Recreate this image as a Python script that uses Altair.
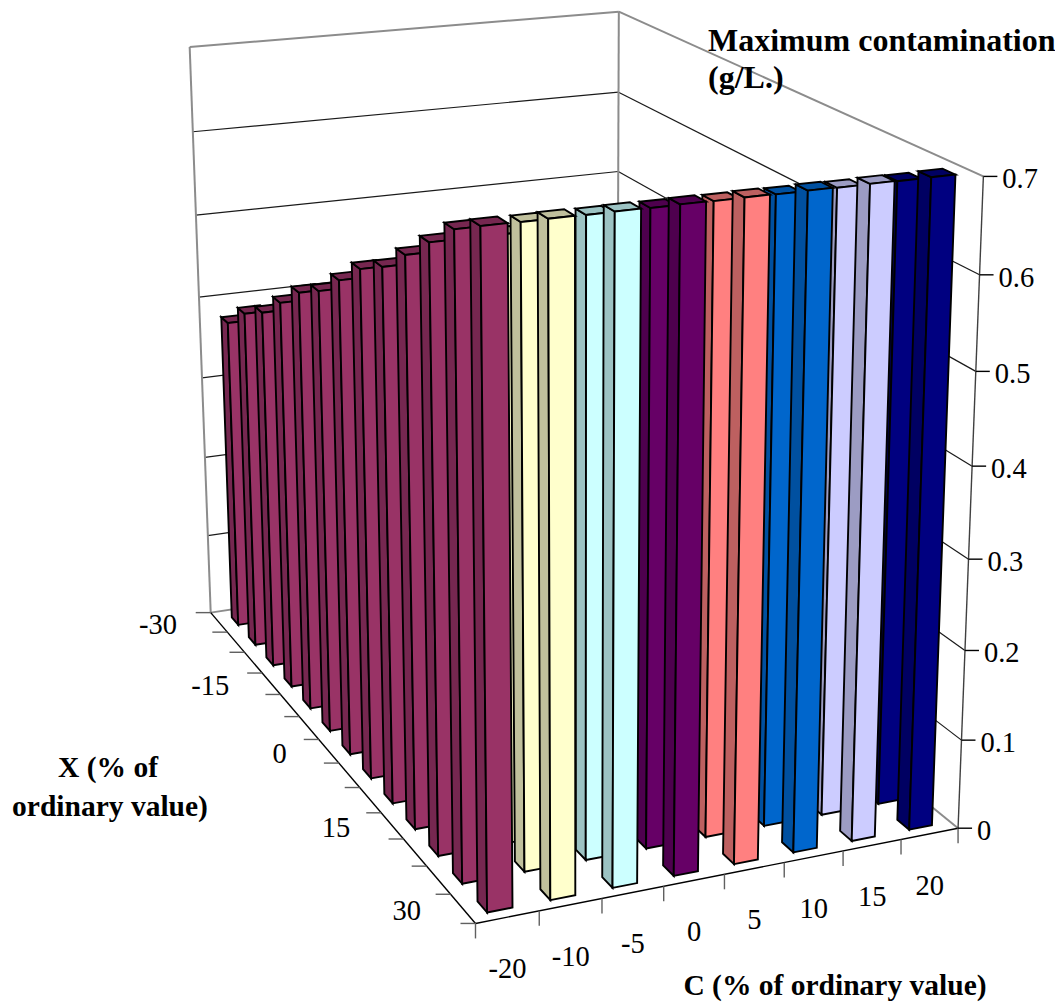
import numpy as np
import pandas as pd
import altair as alt

# ---- values ----------------------------------------------------------------
C_LABELS = ["-20", "-10", "-5", "0", "5", "10", "15", "20"]
X_TICK_ROWS = [0, 3, 6, 9, 12]
X_LABELS = ["-30", "-15", "0", "15", "30"]
Z_LABELS = ["0", "0.1", "0.2", "0.3", "0.4", "0.5", "0.6", "0.7"]
# maximum contamination (g/L) for X = -30 ... 30 in steps of 5; the same at every C
CONTAMINATION = [0.38, 0.41, 0.43, 0.46, 0.49, 0.51, 0.54, 0.57, 0.59, 0.62, 0.65, 0.68, 0.70]
FRONT_COLORS = ["#993366", "#FFFFCC", "#CCFFFF", "#660066", "#FF8080", "#0066CC", "#CCCCFF", "#000080"]
SIDE_COLORS = ["#762750", "#C0C09C", "#9CC3C3", "#4E004E", "#BD6060", "#0050A0", "#9C9CC3", "#000062"]
Z_MAX = 0.7

# ---- camera of the 3-D view: (C, X, value) -> page pixels ---------------------
CAMERA = np.array([
    [438.712863, 171.709807, -31.240611, 210.710719],
    [-32.860932, 130.069423, -568.125571, 612.61972],
    [0.052814, -0.195739, -0.053825, 1.0],
])
N_ROWS = len(CONTAMINATION)
N_COLS = len(C_LABELS)
BAR_U = (0.28, 0.68)   # bar extent inside a category cell
BAR_V = (0.25, 0.63)   # distance of the bar from the front of its cell


def proj(u, v, h):
    q = CAMERA @ np.array([u, v, h, 1.0])
    return float(q[0] / q[2]), float(q[1] / q[2])


# ---- bars, painted from the back and from the right ---------------------------
rows = []
pid = 0
for r in range(N_ROWS):
    h = CONTAMINATION[r] / Z_MAX
    vf = (r + 1 - BAR_V[0]) / N_ROWS
    vb = (r + 1 - BAR_V[1]) / N_ROWS
    for c in reversed(range(N_COLS)):
        ul = (c + BAR_U[0]) / N_COLS
        ur = (c + BAR_U[1]) / N_COLS
        faces = [
            (SIDE_COLORS[c], [(ul, vb, 0), (ul, vf, 0), (ul, vf, h), (ul, vb, h)]),
            (SIDE_COLORS[c], [(ul, vf, h), (ur, vf, h), (ur, vb, h), (ul, vb, h)]),
            (FRONT_COLORS[c], [(ul, vf, 0), (ur, vf, 0), (ur, vf, h), (ul, vf, h)]),
        ]
        for fill, pts in faces:
            pid += 1
            for i, p in enumerate(pts):
                x, y = proj(*p)
                rows.append({"px": x, "py": y, "poly": f"p{pid:05d}", "seq": i, "fill": fill})
bars_df = pd.DataFrame(rows)


# ---- walls, axes, ticks --------------------------------------------------------
def seg(lst, a, b, color, width, off=(0, 0)):
    x0, y0 = proj(*a)
    x1, y1 = proj(*b)
    lst.append({"x0": x0, "y0": y0, "x1": x1 + off[0], "y1": y1 + off[1], "c": color, "w": width})


GREY = "#8C8C8C"
wall = []
for k in range(1, 7):
    seg(wall, (0, 0, k / 7), (1, 0, k / 7), "#1A1A1A", 1.2)
    seg(wall, (1, 0, k / 7), (1, 1, k / 7), "#1A1A1A", 1.2)
seg(wall, (0, 0, 1), (1, 0, 1), GREY, 2)
seg(wall, (1, 0, 1), (1, 1, 1), GREY, 2)
seg(wall, (0, 0, 0), (0, 0, 1), GREY, 2)
seg(wall, (1, 0, 0), (1, 0, 1), GREY, 2)
seg(wall, (0, 0, 0), (1, 0, 0), GREY, 2)
seg(wall, (1, 0, 0), (1, 1, 0), GREY, 2)
wall_df = pd.DataFrame(wall)

axes = []
seg(axes, (0, 0, 0), (0, 1, 0), "#000000", 1.4)
seg(axes, (0, 1, 0), (1, 1, 0), "#000000", 1.4)
seg(axes, (1, 1, 0), (1, 1, 1), "#404040", 1.4)
for k in range(N_ROWS + 1):
    p = (0, k / N_ROWS, 0)
    seg(axes, p, p, "#606060", 1.4, (-15, 0))
for k in range(N_COLS + 1):
    p = (k / N_COLS, 1, 0)
    seg(axes, p, p, "#606060", 1.4, (0, 15))
for k in range(len(Z_LABELS)):
    p = (1, 1, k / 7)
    seg(axes, p, p, "#000000", 1.4, (14, 0))
axes_df = pd.DataFrame(axes)

# ---- tick labels and titles ----------------------------------------------------
xl = []
for r, t in zip(X_TICK_ROWS, X_LABELS):
    x, y = proj(0, (r + 0.5) / N_ROWS, 0)
    xl.append({"px": x - 42, "py": y + 2.5, "t": t})
cl = []
for k, t in enumerate(C_LABELS):
    x, y = proj((k + 0.5) / N_COLS, 1, 0)
    cl.append({"px": x, "py": y + 52, "t": t})
zl = []
for k, t in enumerate(Z_LABELS):
    x, y = proj(1, 1, k / 7)
    zl.append({"px": x + 19, "py": y + 3, "t": t})

FONT = "Liberation Serif"
W, H = 1047, 995
xs = alt.Scale(domain=[8, 8 + W], range=[0, W], nice=False, zero=False)
ys = alt.Scale(domain=[8 + H, 8], range=[H, 0], nice=False, zero=False)
X = alt.X("px:Q", scale=xs, axis=None)
Y = alt.Y("py:Q", scale=ys, axis=None)


def rules(df):
    return alt.Chart(df).mark_rule().encode(
        x=alt.X("x0:Q", scale=xs, axis=None),
        y=alt.Y("y0:Q", scale=ys, axis=None),
        x2="x1:Q",
        y2="y1:Q",
        color=alt.Color("c:N", scale=None),
        strokeWidth=alt.StrokeWidth("w:Q", scale=None),
    )


def texts(items, align, size, bold=False, baseline="middle"):
    return alt.Chart(pd.DataFrame(items)).mark_text(
        align=align, baseline=baseline, font=FONT, fontSize=size,
        fontWeight="bold" if bold else "normal", color="#000000",
    ).encode(x=X, y=Y, text="t:N")


bars = alt.Chart(bars_df).mark_line(
    interpolate="linear-closed", stroke="#000000", strokeWidth=1.9, strokeJoin="miter",
).encode(
    x=X, y=Y, detail="poly:N", order="seq:Q", fill=alt.Fill("fill:N", scale=None),
)

chart = alt.layer(
    rules(wall_df),
    bars,
    rules(axes_df),
    texts(xl, "right", 28.5),
    texts(cl, "center", 28.5),
    texts(zl, "left", 28.5),
    texts([{"px": 708, "py": 51, "t": "Maximum contamination"},
           {"px": 708, "py": 87.5, "t": "(g/L.)"}], "left", 32, True, "alphabetic"),
    texts([{"px": 108, "py": 777, "t": "X (% of"},
           {"px": 110, "py": 816, "t": "ordinary value)"}], "center", 29.5, True, "alphabetic"),
    texts([{"px": 835, "py": 995, "t": "C (% of ordinary value)"}], "center", 29.5, True, "alphabetic"),
).properties(width=W, height=H, autosize="none", padding=0, background="#FFFFFF").configure_view(stroke=None)

chart.save("out.html", embed_options={"renderer": "svg", "actions": False})
